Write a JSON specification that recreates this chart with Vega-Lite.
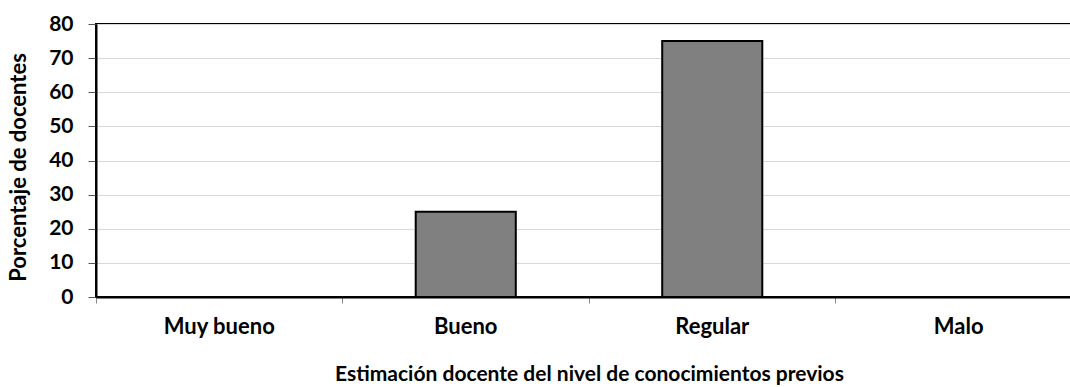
{
  "$schema": "https://vega.github.io/schema/vega-lite/v6.json",
  "autosize": "none",
  "padding": {"left": 96, "top": 24, "right": 0, "bottom": 90},
  "width": 986,
  "height": 273,
  "background": "white",
  "config": {
    "font": "Lato",
    "view": {"stroke": "black", "strokeWidth": 2},
    "axis": {"labelFont": "Lato", "titleFont": "Lato", "labelFontWeight": "bold", "titleFontWeight": "bold", "labelColor": "black", "titleColor": "black"}
  },
  "data": {"values": [
    {"cat": "Muy bueno", "pct": 0},
    {"cat": "Bueno", "pct": 25},
    {"cat": "Regular", "pct": 75},
    {"cat": "Malo", "pct": 0}
  ]},
  "mark": {"type": "bar", "fill": "#808080", "stroke": "black", "strokeWidth": 2, "width": {"band": 0.406}},
  "encoding": {
    "x": {"field": "cat", "type": "nominal", "sort": null,
      "scale": {"paddingInner": 0, "paddingOuter": 0},
      "axis": {"title": "Estimación docente del nivel de conocimientos previos", "labelAngle": 0, "labelFontSize": 22, "titleFontSize": 21, "labelPadding": 13, "titlePadding": 26, "domainColor": "black", "domainWidth": 2, "tickColor": "#888888", "tickSize": 6, "bandPosition": 0, "grid": false}},
    "y": {"field": "pct", "type": "quantitative",
      "scale": {"domain": [0, 80]},
      "axis": {"title": "Porcentaje de docentes", "values": [0,10,20,30,40,50,60,70,80], "labelFontSize": 21, "titleFontSize": 22, "labelPadding": 15, "tickSize": 8, "tickColor": "#555555", "domainColor": "black", "domainWidth": 2, "gridColor": "#d9d9d9", "gridWidth": 1, "titleX": -78, "titleY": 143, "titleAlign": "center", "titleBaseline": "middle"}}
  }
}
